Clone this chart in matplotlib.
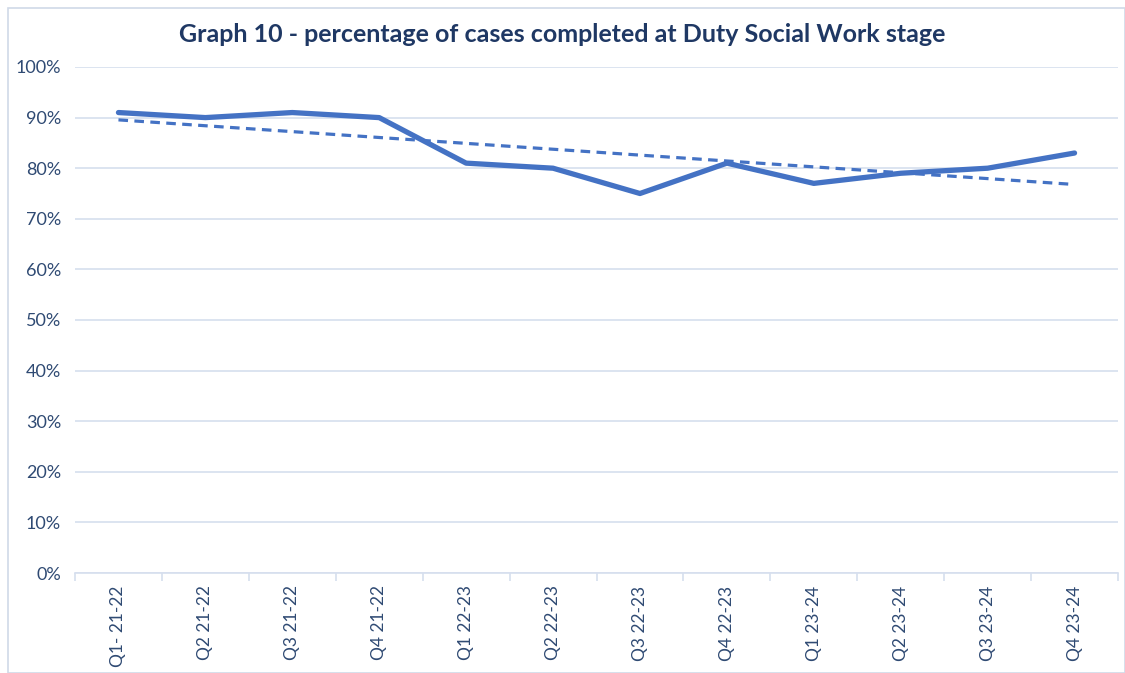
import numpy as np
import matplotlib.pyplot as plt
from matplotlib.patches import Rectangle
from matplotlib.ticker import PercentFormatter, FixedLocator

# Quarterly completion rate at the Duty Social Work stage
quarters = ['Q1- 21-22', 'Q2 21-22', 'Q3 21-22', 'Q4 21-22',
            'Q1 22-23', 'Q2 22-23', 'Q3 22-23', 'Q4 22-23',
            'Q1 23-24', 'Q2 23-24', 'Q3 23-24', 'Q4 23-24']
pct_completed = [91, 90, 91, 90, 81, 80, 75, 81, 77, 79, 80, 83]

plt.rcParams['font.family'] = ['Lato', 'DejaVu Sans']

line_col = '#4472C4'
text_col = '#2F4A73'
grid_col = '#D6DFEE'

x = np.arange(len(quarters))
y = np.array(pct_completed, dtype=float)

# linear trendline
slope, intercept = np.polyfit(x, y, 1)
trend = slope * x + intercept

fig = plt.figure(figsize=(11.25, 6.73), dpi=100)
ax = fig.add_axes([75 / 1125, 1 - 573 / 673, (1118 - 75) / 1125, (573 - 67) / 673])

ax.plot(x, y, color=line_col, lw=3.8, solid_joinstyle='round', solid_capstyle='round', zorder=3)
ax.plot(x, trend, color=line_col, lw=2.3, ls=(0, (3, 2)), zorder=2)

ax.set_xlim(-0.5, len(quarters) - 0.5)
ax.set_ylim(0, 100)
ax.set_yticks(np.arange(0, 101, 10))
ax.yaxis.set_major_formatter(PercentFormatter(decimals=0))
ax.grid(axis='y', color=grid_col, lw=1.2)
ax.set_axisbelow(True)

for s in ['top', 'right', 'left']:
    ax.spines[s].set_visible(False)
ax.spines['bottom'].set_color(grid_col)
ax.spines['bottom'].set_linewidth(1.2)

ax.set_xticks(x)
ax.set_xticklabels(quarters, rotation=90, fontsize=12.5, color=text_col)
ax.tick_params(axis='x', length=0, pad=9)
ax.xaxis.set_minor_locator(FixedLocator(np.arange(-0.5, len(quarters), 1)))
ax.tick_params(axis='x', which='minor', length=6, color=grid_col, width=1.2)
ax.tick_params(axis='y', length=0, labelsize=13, labelcolor=text_col, pad=10)

fig.text(0.5, 1 - 35 / 673, 'Graph 10 - percentage of cases completed at Duty Social Work stage',
         ha='center', va='center', fontsize=18, fontweight='bold', color='#1F3864')

# outer chart frame
fig.patches.append(Rectangle((8 / 1125, 0), 1 - 8 / 1125, 1 - 8 / 673, transform=fig.transFigure,
                             fill=False, edgecolor='#D0D9E8', lw=1.2))

fig.savefig('out.png', dpi=100)
